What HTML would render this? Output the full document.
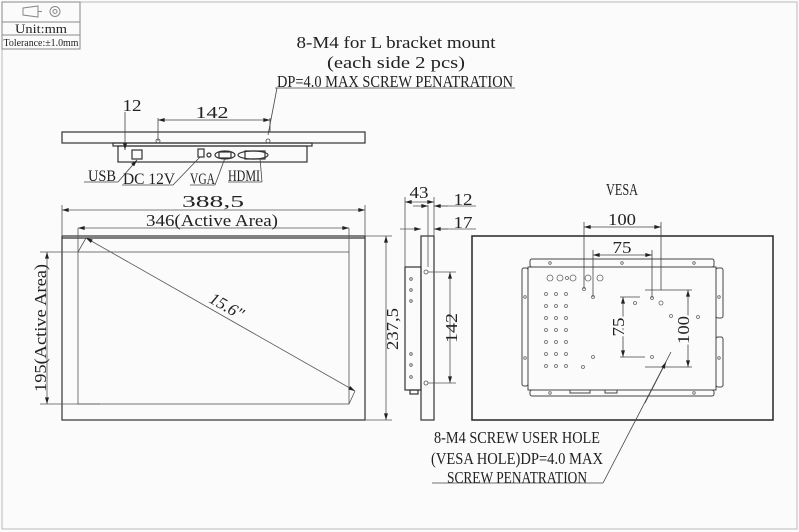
<!DOCTYPE html>
<html><head><meta charset="utf-8"><style>
html,body{margin:0;padding:0;background:#fbfbfb}
svg{display:block}
text{font-family:"Liberation Serif",serif;fill:#222}
</style></head><body>
<svg width="799" height="532" viewBox="0 0 799 532" xmlns="http://www.w3.org/2000/svg">
<defs>
<marker id="a" viewBox="0 0 10 6" refX="10" refY="3" markerWidth="10" markerHeight="4" orient="auto-start-reverse" markerUnits="userSpaceOnUse"><path d="M0,0L10,3L0,6z" fill="#222"/></marker>
</defs>
<rect x="0" y="0" width="799" height="532" fill="#fbfbfb"/>
<rect x="2" y="2" width="795" height="527" fill="none" stroke="#bbb" stroke-width="1"/>
<!-- title block -->
<g stroke="#888" fill="none" stroke-width="1">
<rect x="2" y="2" width="78" height="47"/>
<line x1="2" y1="22" x2="80" y2="22"/><line x1="2" y1="35" x2="80" y2="35"/>
<path d="M23,8 L38,6 L38,17 L23,15 Z"/><line x1="38" y1="11.5" x2="42" y2="11.5"/>
<circle cx="55" cy="11.5" r="5"/><circle cx="55" cy="11.5" r="2"/>
</g>
<text x="41" y="33" font-size="13" text-anchor="middle" textLength="52" lengthAdjust="spacingAndGlyphs">Unit:mm</text>
<text x="41" y="46" font-size="10" text-anchor="middle" textLength="75" lengthAdjust="spacingAndGlyphs">Tolerance:±1.0mm</text>

<!-- top notes -->
<text x="396" y="48" font-size="17" text-anchor="middle" textLength="199" lengthAdjust="spacingAndGlyphs">8-M4 for L bracket mount</text>
<text x="396" y="68" font-size="17" text-anchor="middle" textLength="138" lengthAdjust="spacingAndGlyphs">(each side 2 pcs)</text>
<text x="395" y="87" font-size="17" text-anchor="middle" textLength="236" lengthAdjust="spacingAndGlyphs">DP=4.0 MAX SCREW PENATRATION</text>
<g stroke="#444" stroke-width="0.8" fill="none">
<line x1="275" y1="88" x2="515" y2="88"/><line x1="277" y1="88" x2="268" y2="135"/>
</g>

<!-- top view -->
<g stroke="#333" stroke-width="1.2" fill="none">
<rect x="62" y="132" width="303" height="11"/>
<rect x="113" y="143" width="199" height="3"/>
<rect x="118" y="146" width="189" height="16"/>
<rect x="132" y="150" width="10" height="9"/>
<rect x="198" y="149" width="6" height="8"/>
<circle cx="209" cy="155" r="2"/>
<ellipse cx="225" cy="155" rx="10" ry="4"/><rect x="219" y="152" width="12" height="6"/>
<ellipse cx="253" cy="155" rx="15" ry="4"/><rect x="245" y="151" width="20" height="8"/>
</g>
<g stroke="#444" stroke-width="0.8" fill="none">
<circle cx="158" cy="141" r="2"/><circle cx="268" cy="141" r="2"/>
<line x1="158" y1="141" x2="158" y2="118"/><line x1="270" y1="132" x2="270" y2="118"/>
<line x1="158" y1="120" x2="270" y2="120" marker-start="url(#a)" marker-end="url(#a)"/>
<line x1="125" y1="112" x2="125" y2="150" marker-end="url(#a)"/>
<line x1="84" y1="182" x2="118" y2="182"/><line x1="118" y1="182" x2="137" y2="160" marker-end="url(#a)"/>
<line x1="122" y1="185" x2="173" y2="185"/><line x1="173" y1="185" x2="200" y2="157"/>
<line x1="190" y1="185" x2="215" y2="185"/><line x1="215" y1="185" x2="225" y2="158"/>
<line x1="228" y1="182" x2="262" y2="182"/><line x1="262" y1="182" x2="260" y2="158"/>
</g>
<text x="132" y="111" font-size="17" text-anchor="middle" textLength="19" lengthAdjust="spacingAndGlyphs">12</text>
<text x="212" y="118" font-size="17" text-anchor="middle" textLength="33" lengthAdjust="spacingAndGlyphs">142</text>
<text x="88" y="181" font-size="16" textLength="28" lengthAdjust="spacingAndGlyphs">USB</text>
<text x="123" y="184" font-size="16" textLength="52" lengthAdjust="spacingAndGlyphs">DC 12V</text>
<text x="190" y="184" font-size="16" textLength="25" lengthAdjust="spacingAndGlyphs">VGA</text>
<text x="228" y="181" font-size="16" textLength="32" lengthAdjust="spacingAndGlyphs">HDMI</text>

<!-- front view -->
<g stroke="#333" stroke-width="1.2" fill="none">
<rect x="62" y="236" width="303" height="184"/>
<line x1="62" y1="238" x2="365" y2="238"/>
</g>
<g stroke="#555" stroke-width="0.8" fill="none">
<rect x="78" y="252" width="271" height="152"/>
<line x1="78" y1="252" x2="78" y2="228"/><line x1="349" y1="252" x2="349" y2="228"/>
<line x1="62" y1="236" x2="62" y2="205"/><line x1="365" y1="236" x2="365" y2="205"/>
<line x1="62" y1="210" x2="365" y2="210" marker-start="url(#a)" marker-end="url(#a)"/>
<line x1="78" y1="228" x2="349" y2="228" marker-start="url(#a)" marker-end="url(#a)"/>
<line x1="40" y1="252" x2="78" y2="252"/><line x1="40" y1="404" x2="100" y2="404"/>
<line x1="47" y1="252" x2="47" y2="404" marker-start="url(#a)" marker-end="url(#a)"/>
<line x1="365" y1="236" x2="392" y2="236"/><line x1="365" y1="420" x2="392" y2="420"/>
<line x1="386" y1="236" x2="386" y2="420" marker-start="url(#a)" marker-end="url(#a)"/>
<line x1="86" y1="238" x2="355" y2="391" marker-start="url(#a)" marker-end="url(#a)"/>
<line x1="86" y1="238" x2="78" y2="252"/><line x1="355" y1="391" x2="349" y2="404"/>
</g>
<text x="213" y="207" font-size="17" text-anchor="middle" textLength="62" lengthAdjust="spacingAndGlyphs">388,5</text>
<text x="212" y="226" font-size="17" text-anchor="middle" textLength="132" lengthAdjust="spacingAndGlyphs">346(Active Area)</text>
<text transform="translate(46,328) rotate(-90)" font-size="17" text-anchor="middle" textLength="128" lengthAdjust="spacingAndGlyphs">195(Active Area)</text>
<text transform="translate(398,329) rotate(-90)" font-size="17" text-anchor="middle" textLength="42" lengthAdjust="spacingAndGlyphs">237,5</text>
<text transform="translate(224,311) rotate(30)" font-size="17" font-style="italic" text-anchor="middle">15.6"</text>

<!-- side view -->
<g stroke="#333" stroke-width="1.2" fill="none">
<rect x="421" y="236" width="13" height="184"/>
<rect x="405" y="267" width="16" height="123"/>
<rect x="410" y="390" width="8" height="4"/>
</g>
<g stroke="#555" stroke-width="0.8" fill="none">
<line x1="405" y1="197" x2="405" y2="267"/><line x1="434" y1="197" x2="434" y2="236"/>
<line x1="428" y1="205" x2="428" y2="267"/>
<line x1="405" y1="202" x2="434" y2="202" marker-start="url(#a)" marker-end="url(#a)"/>
<line x1="413" y1="206" x2="428" y2="206" marker-end="url(#a)"/><line x1="434" y1="206" x2="476" y2="206"/><line x1="448" y1="206" x2="434" y2="206" marker-end="url(#a)"/>
<line x1="400" y1="229" x2="421" y2="229" marker-end="url(#a)"/><line x1="434" y1="229" x2="476" y2="229"/><line x1="448" y1="229" x2="434" y2="229" marker-end="url(#a)"/>
<circle cx="426" cy="272" r="2"/><circle cx="426" cy="383" r="2"/>
<line x1="428" y1="272" x2="456" y2="272"/><line x1="428" y1="383" x2="456" y2="383"/>
<line x1="450" y1="272" x2="450" y2="383" marker-start="url(#a)" marker-end="url(#a)"/>
<circle cx="411" cy="279" r="1.3"/><circle cx="411" cy="290" r="1.3"/><circle cx="411" cy="301" r="1.3"/>
<circle cx="411" cy="354" r="1.3"/><circle cx="411" cy="365" r="1.3"/><circle cx="411" cy="377" r="1.3"/>
</g>
<text x="419" y="198" font-size="17" text-anchor="middle" textLength="19" lengthAdjust="spacingAndGlyphs">43</text>
<text x="463" y="205" font-size="17" text-anchor="middle" textLength="19" lengthAdjust="spacingAndGlyphs">12</text>
<text x="463" y="228" font-size="17" text-anchor="middle" textLength="19" lengthAdjust="spacingAndGlyphs">17</text>
<text transform="translate(457,328) rotate(-90)" font-size="17" text-anchor="middle" textLength="30" lengthAdjust="spacingAndGlyphs">142</text>

<!-- VESA view -->
<text x="622" y="195" font-size="17" text-anchor="middle" textLength="32" lengthAdjust="spacingAndGlyphs">VESA</text>
<g stroke="#333" stroke-width="1.6" fill="none">
<rect x="472" y="236" width="301" height="184"/>
</g>
<g stroke="#444" stroke-width="1" fill="none">
<rect x="528" y="267" width="188" height="123"/>
<rect x="530" y="259" width="184" height="8" rx="2"/>
<rect x="530" y="390" width="184" height="6" rx="2"/>
<rect x="522" y="268" width="6" height="118" rx="2"/>
<rect x="716" y="268" width="7" height="50" rx="2"/><rect x="716" y="337" width="7" height="50" rx="2"/>
<rect x="570" y="390" width="20" height="3"/><rect x="605" y="390" width="12" height="3"/>
</g>
<g stroke="#666" stroke-width="0.8" fill="none">
<circle cx="550" cy="278" r="3"/><circle cx="560" cy="278" r="3"/><circle cx="567" cy="278" r="1.5"/><circle cx="573" cy="278" r="3"/><circle cx="588" cy="278" r="3"/><circle cx="600" cy="278" r="3"/>
<circle cx="546" cy="294" r="1.5"/><circle cx="556" cy="294" r="1.5"/><circle cx="566" cy="294" r="1.5"/>
<circle cx="546" cy="306" r="1.5"/><circle cx="556" cy="306" r="1.5"/><circle cx="566" cy="306" r="1.5"/>
<circle cx="546" cy="318" r="1.5"/><circle cx="556" cy="318" r="1.5"/><circle cx="566" cy="318" r="1.5"/>
<circle cx="546" cy="330" r="1.5"/><circle cx="556" cy="330" r="1.5"/><circle cx="566" cy="330" r="1.5"/>
<circle cx="546" cy="342" r="1.5"/><circle cx="556" cy="342" r="1.5"/><circle cx="566" cy="342" r="1.5"/>
<circle cx="546" cy="354" r="1.5"/><circle cx="556" cy="354" r="1.5"/><circle cx="566" cy="354" r="1.5"/>
<circle cx="546" cy="366" r="1.5"/><circle cx="556" cy="366" r="1.5"/><circle cx="566" cy="366" r="1.5"/>
<circle cx="584" cy="289" r="1.5"/><circle cx="593" cy="297" r="1.5"/><circle cx="593" cy="357" r="1.5"/><circle cx="583" cy="367" r="1.5"/>
<circle cx="635" cy="303" r="1.5"/><circle cx="652" cy="298" r="1.5"/><circle cx="661" cy="303" r="2"/><circle cx="671" cy="316" r="1.5"/><circle cx="698" cy="317" r="1.5"/><circle cx="652" cy="357" r="1.5"/>
<circle cx="550" cy="263" r="1.3"/><circle cx="622" cy="263" r="1.3"/><circle cx="694" cy="263" r="1.3"/>
<circle cx="550" cy="393" r="1.3"/><circle cx="694" cy="393" r="1.3"/>
<circle cx="525" cy="297" r="1.3"/><circle cx="525" cy="358" r="1.3"/><circle cx="719" cy="297" r="1.3"/><circle cx="719" cy="358" r="1.3"/>
</g>
<g stroke="#444" stroke-width="0.8" fill="none">
<line x1="584" y1="289" x2="584" y2="222"/><line x1="661" y1="290" x2="661" y2="222"/>
<line x1="584" y1="227" x2="661" y2="227" marker-start="url(#a)" marker-end="url(#a)"/>
<line x1="593" y1="297" x2="593" y2="250"/><line x1="652" y1="298" x2="652" y2="250"/>
<line x1="593" y1="255" x2="652" y2="255" marker-start="url(#a)" marker-end="url(#a)"/>
<line x1="620" y1="297" x2="640" y2="297"/><line x1="620" y1="357" x2="645" y2="357"/>
<line x1="623" y1="297" x2="623" y2="357" marker-start="url(#a)" marker-end="url(#a)"/>
<line x1="645" y1="290" x2="692" y2="290"/><line x1="645" y1="367" x2="692" y2="367"/>
<line x1="688" y1="290" x2="688" y2="367" marker-start="url(#a)" marker-end="url(#a)"/>
<line x1="603" y1="483" x2="671" y2="352"/>
<line x1="645" y1="403" x2="666" y2="362" marker-end="url(#a)"/>
<line x1="432" y1="483" x2="603" y2="483"/>
</g>
<text x="622" y="225" font-size="17" text-anchor="middle" textLength="28" lengthAdjust="spacingAndGlyphs">100</text>
<text x="622" y="253" font-size="17" text-anchor="middle" textLength="19" lengthAdjust="spacingAndGlyphs">75</text>
<text transform="translate(624,327) rotate(-90)" font-size="17" text-anchor="middle" textLength="19" lengthAdjust="spacingAndGlyphs" style="paint-order:stroke" stroke="#fbfbfb" stroke-width="4">75</text>
<text transform="translate(689,330) rotate(-90)" font-size="17" text-anchor="middle" textLength="28" lengthAdjust="spacingAndGlyphs" style="paint-order:stroke" stroke="#fbfbfb" stroke-width="4">100</text>

<text x="517" y="443" font-size="17" text-anchor="middle" textLength="166" lengthAdjust="spacingAndGlyphs">8-M4 SCREW USER HOLE</text>
<text x="517" y="464" font-size="17" text-anchor="middle" textLength="172" lengthAdjust="spacingAndGlyphs">(VESA HOLE)DP=4.0 MAX</text>
<text x="517" y="483" font-size="17" text-anchor="middle" textLength="140" lengthAdjust="spacingAndGlyphs">SCREW PENATRATION</text>
</svg>
</body></html>
